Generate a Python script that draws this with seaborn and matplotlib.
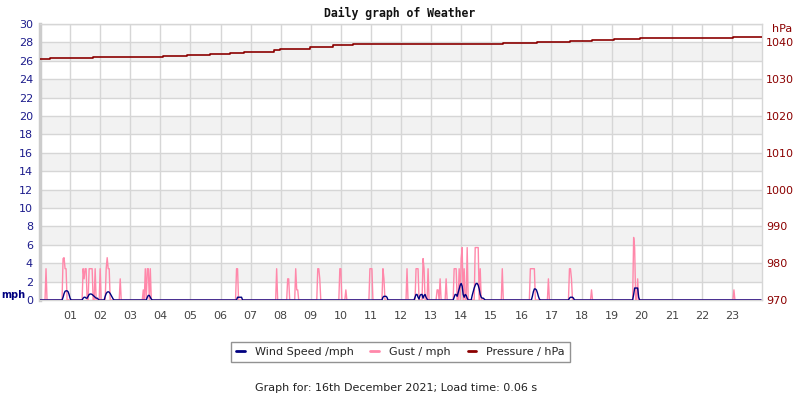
import numpy as np
import pandas as pd
import matplotlib
matplotlib.use("Agg")
import matplotlib.pyplot as plt
from matplotlib.lines import Line2D
import seaborn as sns

# ---------------- data ----------------
# gusts (minute of day, mph) on a 2-minute sampling grid; other samples are 0
gust_minutes = [12, 46, 48, 50, 52, 86, 88, 90, 92, 98, 100, 102, 104, 110, 120,
                132, 134, 136, 138, 160, 206, 210, 214, 216, 220, 392, 394,
                472, 494, 496, 510, 512, 514, 554, 556, 558, 598, 600, 610,
                658, 660, 662, 684, 686, 732, 750, 752, 754, 764, 766, 774,
                792, 794, 798, 810, 826, 828, 830, 836, 840, 842, 846, 852,
                868, 870, 872, 874, 878, 922, 978, 980, 982, 984, 986, 1014,
                1056, 1058, 1060, 1100, 1184, 1186, 1192, 1384]
gust_mph = [3.4, 4.5, 4.6, 3.4, 3.4, 3.4, 2.3, 3.4, 3.4, 3.4, 3.4, 3.4, 3.4, 3.4, 3.4,
            3.4, 4.6, 3.4, 3.4, 2.3, 1.1, 3.4, 3.4, 3.4, 3.4, 3.4, 3.4,
            3.4, 2.3, 2.3, 3.4, 1.1, 1.1, 3.4, 3.4, 2.3, 3.4, 3.4, 1.1,
            3.4, 3.4, 3.4, 3.4, 2.3, 3.4, 3.4, 3.4, 3.4, 4.5, 3.4, 3.4,
            1.1, 1.1, 2.3, 2.3, 3.4, 3.4, 3.4, 3.4, 4.5, 5.7, 3.4, 5.7,
            5.7, 5.7, 5.7, 5.7, 3.4, 3.4, 3.4, 3.4, 3.4, 3.4, 3.4, 2.3,
            3.4, 3.4, 2.3, 1.1, 6.8, 5.7, 2.3, 1.1]

wind_minutes = [46, 48, 50, 52, 54, 56, 58, 60,
                86, 88, 90, 92, 94,
                96, 98, 100, 102, 104, 106, 108, 110, 112, 114, 116,
                130, 132, 134, 136, 138, 140, 142, 144, 146,
                214, 216, 218, 220, 222,
                394, 396, 398, 400, 402,
                684, 686, 688, 690, 692,
                748, 750, 752, 754, 756, 758, 760, 762, 764, 766, 768, 770, 772,
                826, 828, 830, 832, 834, 836, 838, 840, 842, 844, 846, 848, 850, 852,
                862, 864, 866, 868, 870, 872, 874, 876, 878, 880, 882, 884, 886,
                982, 984, 986, 988, 990, 992, 994, 996,
                1056, 1058, 1060, 1062, 1064,
                1184, 1186, 1188, 1190, 1192, 1194]
wind_mph = [0.3, 0.7, 0.95, 1.0, 1.0, 0.9, 0.6, 0.2,
            0.2, 0.3, 0.3, 0.2, 0.2,
            0.4, 0.6, 0.65, 0.65, 0.6, 0.5, 0.4, 0.3, 0.2, 0.2, 0.1,
            0.4, 0.7, 0.85, 0.9, 0.85, 0.7, 0.5, 0.3, 0.1,
            0.3, 0.5, 0.5, 0.3, 0.1,
            0.3, 0.3, 0.3, 0.3, 0.3,
            0.3, 0.4, 0.4, 0.4, 0.3,
            0.3, 0.6, 0.6, 0.3, 0.1, 0.5, 0.6, 0.6, 0.2, 0.5, 0.6, 0.3, 0.1,
            0.3, 0.6, 0.6, 0.4, 0.8, 1.2, 1.6, 1.8, 1.5, 0.6, 0.3, 0.6, 0.5, 0.2,
            0.5, 0.9, 1.3, 1.6, 1.8, 1.8, 1.6, 1.2, 0.6, 0.3, 0.2, 0.2, 0.1,
            0.4, 0.9, 1.2, 1.2, 1.1, 0.8, 0.4, 0.1,
            0.2, 0.3, 0.3, 0.3, 0.2,
            0.6, 1.3, 1.3, 1.3, 1.3, 0.3]

pressure_minutes = [0, 20, 106, 246, 293, 339, 379, 406, 466, 479, 539, 585, 625, 744,
                    924, 991, 1057, 1100, 1144, 1197, 1383, 1440]
pressure_hpa = [1035.5, 1035.7, 1036.1, 1036.4, 1036.55, 1036.8, 1037.2, 1037.5, 1037.9,
                1038.2, 1038.8, 1039.2, 1039.45, 1039.5, 1039.8, 1040.0, 1040.4, 1040.6,
                1040.8, 1041.3, 1041.6, 1041.6]

hour_labels = [f"{h:02d}" for h in range(1, 24)]
left_ticks = list(range(0, 31, 2))
right_ticks = list(range(970, 1041, 10))

# ---------------- build series ----------------
grid_min = np.arange(0, 1440, 2)
gust = pd.Series(0.0, index=grid_min)
gust.loc[gust_minutes] = gust_mph
wind = pd.Series(0.0, index=grid_min)
wind.loc[wind_minutes] = wind_mph

df_w = pd.DataFrame({"hour": grid_min / 60.0, "gust": gust.values, "wind": wind.values})
df_p = pd.DataFrame({"hour": np.array(pressure_minutes) / 60.0, "p": pressure_hpa})

# ---------------- style ----------------
sns.set_theme(style="white")
plt.rcParams["font.family"] = ["DejaVu Sans"]

NAVY = "#000080"
PINK = "#ff88aa"
DRED = "#8b0000"
GRID = "#d6d6d6"

fig = plt.figure(figsize=(8, 4), dpi=100)
ax = fig.add_axes([40 / 800, 100 / 400, 722 / 800, 276 / 400])
ax.set_facecolor("white")
ax.set_xlim(0, 24)
ax.set_ylim(0, 30)
for y0 in range(2, 30, 4):
    ax.axhspan(y0, y0 + 2, color="#f2f2f2", lw=0, zorder=0)

sns.lineplot(data=df_w, x="hour", y="gust", ax=ax, color=PINK, lw=1.0, zorder=3, legend=False)
sns.lineplot(data=df_w, x="hour", y="wind", ax=ax, color=NAVY, lw=1.0, zorder=4, legend=False)

ax.set_yticks(left_ticks)
ax.set_yticklabels([str(v) for v in left_ticks])
ax.set_xticks(range(1, 24))
ax.set_xticklabels(hour_labels)
ax.grid(True, color=GRID, lw=1)
ax.set_axisbelow(True)
ax.set_xlabel("")
ax.set_ylabel("")
ax.tick_params(axis="y", length=0, labelsize=8, labelcolor="#1c1c8c", pad=5)
ax.tick_params(axis="x", length=0, labelsize=8, labelcolor="#444444", pad=8)
for s in ["top", "right", "bottom"]:
    ax.spines[s].set_color(GRID)
    ax.spines[s].set_linewidth(1)
ax.spines["left"].set_color("#cccccc")
ax.spines["left"].set_linewidth(2.5)

ax2 = ax.twinx()
sns.lineplot(data=df_p, x="hour", y="p", ax=ax2, color=DRED, lw=1.2,
             drawstyle="steps-post", legend=False)
ax2.set_xlim(0, 24)
ax2.set_ylim(970, 1045)
ax2.set_yticks(right_ticks)
ax2.set_yticklabels([str(v) for v in right_ticks])
ax2.grid(False)
ax2.set_ylabel("")
ax2.tick_params(axis="y", length=0, labelsize=8, labelcolor=DRED, pad=3)
for s in ax2.spines.values():
    s.set_visible(False)

ax2.text(1.0139, 0.982, "hPa", transform=ax2.transAxes, ha="left", va="center",
         fontsize=8, color=DRED)
fig.text(1 / 800, 1 - 295 / 400, "mph", ha="left", va="center", fontsize=7,
         fontweight="bold", color=NAVY)

fig.text(0.5, 1 - 13 / 400, "Daily graph of Weather", ha="center", va="center",
         fontsize=8.3, fontweight="bold", family="DejaVu Sans Mono", color="#111111")

handles = [Line2D([], [], color=NAVY, lw=2),
           Line2D([], [], color=PINK, lw=2),
           Line2D([], [], color=DRED, lw=2)]
labels = ["Wind Speed /mph", "Gust / mph", "Pressure / hPa"]
leg = fig.legend(handles, labels, loc="center", bbox_to_anchor=(400.5 / 800, 1 - 352 / 400),
                 ncol=3, fontsize=8, frameon=True, fancybox=False, edgecolor="#777777",
                 handlelength=0.8, handletextpad=0.9, columnspacing=1.5,
                 borderpad=0.45, borderaxespad=0)
leg.get_frame().set_linewidth(1)

fig.text(396 / 800, 1 - 388 / 400, "Graph for: 16th December 2021; Load time: 0.06 s",
         ha="center", va="center", fontsize=8, color="#222222")

fig.savefig("out.png", dpi=100)
